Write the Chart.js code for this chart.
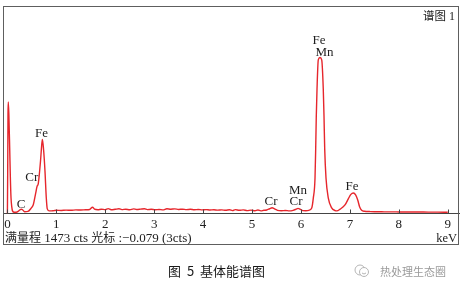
<!DOCTYPE html>
<html>
<head>
<meta charset="utf-8">
<script src="https://cdn.jsdelivr.net/npm/chart.js@4.4.0/dist/chart.umd.min.js"></script>
<style>
  body { margin: 0; background: #fff; }
  #wrap { position: relative; width: 461px; height: 288px; }
  #spec { position: absolute; left: 0; top: 0; }
  .txt { position: absolute; white-space: pre; font-family: "Liberation Serif", "Noto Sans CJK SC", serif; color: #222; }
  .cjk { font-family: "Noto Sans CJK SC", sans-serif; }
</style>
</head>
<body>
<div id="wrap">
  <canvas id="spec" width="461" height="288"></canvas>

  <div class="txt" style="right:6px; top:8px; font-size:12px; line-height:15px;"><span class="cjk" style="font-size:11.5px">谱图</span> 1</div>
  <div class="txt" style="left:5px; top:229px; font-size:13px; line-height:15px;"><span class="cjk" style="font-size:12px">满量程</span> 1473 cts <span class="cjk" style="font-size:12px">光标</span> :−0.079 (3cts)</div>
  <div class="txt" style="right:4px; top:231px; font-size:12.5px; line-height:15px;">keV</div>

  <div class="txt cjk" style="left:168px; top:262px; font-size:13px; line-height:18px; color:#1a1a1a; word-spacing:3px;">图 5 基体能谱图</div>

  <svg style="position:absolute; left:354px; top:263px;" width="16" height="16" viewBox="0 0 16 16">
    <circle cx="6" cy="7" r="5" fill="none" stroke="#b5b5b5" stroke-width="1"/>
    <circle cx="10" cy="9" r="4.5" fill="#fff" stroke="#b5b5b5" stroke-width="1"/>
    <path d="M8 10 Q10 12 12 10" fill="none" stroke="#b5b5b5" stroke-width="1"/>
  </svg>
  <div class="txt cjk" style="left:380px; top:263px; font-size:11px; line-height:16px; color:#9a9a9a;">热处理生态圈</div>
</div>

<script>
// energy (keV) and counts
const energy = [
  0.000, 0.006, 0.012, 0.018, 0.030, 0.047, 0.060, 0.074, 0.090, 0.104,
  0.140, 0.180, 0.220, 0.260, 0.285, 0.310, 0.350, 0.420, 0.480, 0.529,
  0.578, 0.605, 0.632, 0.676, 0.700, 0.715, 0.740, 0.768, 0.795, 0.815,
  0.850, 0.900, 0.950, 1.00, 1.10, 1.20, 1.30, 1.40, 1.50, 1.60,
  1.68, 1.74, 1.78, 1.85, 1.92, 2.00, 2.06, 2.12, 2.20, 2.28,
  2.34, 2.42, 2.50, 2.58, 2.64, 2.72, 2.80, 2.86, 2.94, 3.02,
  3.10, 3.18, 3.26, 3.34, 3.42, 3.50, 3.58, 3.66, 3.74, 3.82,
  3.90, 3.98, 4.06, 4.14, 4.22, 4.30, 4.38, 4.46, 4.54, 4.60,
  4.66, 4.74, 4.82, 4.90, 4.98, 5.06, 5.12, 5.18, 5.24, 5.30,
  5.36, 5.41, 5.46, 5.52, 5.60, 5.68, 5.76, 5.84, 5.90, 5.94,
  5.98, 6.04, 6.10, 6.16, 6.22, 6.252, 6.287, 6.301, 6.313, 6.328,
  6.354, 6.389, 6.424, 6.456, 6.471, 6.485, 6.512, 6.559, 6.628, 6.700,
  6.730, 6.800, 6.900, 6.970, 7.020, 7.070, 7.120, 7.160, 7.200, 7.240,
  7.300, 7.400, 7.500, 7.600, 7.700, 7.800, 7.900, 8.000, 8.200, 8.400,
  8.600, 8.800, 9.000
];
const counts = [
  0, 300, 700, 791, 700, 460, 260, 109, 45, 18,
  8, 8, 14, 26, 30, 26, 12, 14, 35, 62,
  144, 190, 214, 369, 480, 526, 450, 300, 109, 32,
  18, 18, 20, 22, 21, 23, 22, 25, 24, 26,
  28, 44, 30, 26, 30, 27, 34, 26, 29, 33,
  27, 30, 26, 32, 28, 30, 33, 27, 29, 26,
  28, 25, 33, 30, 32, 28, 30, 27, 29, 26,
  28, 25, 27, 24, 26, 23, 25, 22, 26, 20,
  27, 22, 25, 20, 23, 19, 24, 18, 22, 24,
  33, 40, 32, 22, 19, 21, 18, 22, 30, 36,
  30, 20, 19, 22, 39, 109, 250, 460, 689, 882,
  1090, 1107, 1090, 882, 689, 460, 250, 109, 39, 20,
  18, 30, 60, 105, 135, 145, 130, 95, 45, 22,
  15, 13, 12, 12, 11, 11, 11, 10, 10, 10,
  9, 9, 8
];
const tickVals = [0, 1, 2, 3, 4, 5, 6, 7, 8, 9];
const fullScale = 1473;

// element labels: text, energy (keV), counts level of the label centre
const peakNames = ['Fe', 'Cr', 'C', 'Cr', 'Mn', 'Cr', 'Fe', 'Mn', 'Fe'];
const peakKeV   = [0.697, 0.497, 0.278, 5.387, 5.939, 5.898, 6.368, 6.481, 7.043];
const peakLevel = [566, 257, 63, 81, 162, 81, 1229, 1145, 193];

const points = energy.map((e, i) => ({ x: e, y: counts[i] }));

// outer frame around the spectrum
const framePlugin = {
  id: 'frame',
  afterDraw(chart) {
    const ctx = chart.ctx;
    ctx.save();
    ctx.strokeStyle = '#5e5e5e';
    ctx.lineWidth = 1;
    ctx.strokeRect(3.5, 6.5, 455, 238);
    ctx.restore();
  }
};

// small tick marks pointing up from the axis
const tickPlugin = {
  id: 'upTicks',
  afterDraw(chart) {
    const sx = chart.scales.x;
    const ctx = chart.ctx;
    const y0 = Math.round(sx.top) + 0.5;
    ctx.save();
    ctx.strokeStyle = '#444';
    ctx.lineWidth = 1;
    sx.ticks.forEach(t => {
      const px = Math.round(sx.getPixelForValue(t.value)) + 0.5;
      ctx.beginPath();
      ctx.moveTo(px, y0);
      ctx.lineTo(px, y0 - 4);
      ctx.stroke();
    });
    ctx.restore();
  }
};

const labelPlugin = {
  id: 'peakLabels',
  afterDatasetsDraw(chart) {
    const { x, y } = chart.scales;
    const ctx = chart.ctx;
    ctx.save();
    ctx.font = '13px "Liberation Serif"';
    ctx.fillStyle = '#1e1e1e';
    ctx.textAlign = 'center';
    ctx.textBaseline = 'middle';
    peakNames.forEach((n, i) => {
      ctx.fillText(n, x.getPixelForValue(peakKeV[i]), y.getPixelForValue(peakLevel[i]));
    });
    ctx.restore();
  }
};

new Chart(document.getElementById('spec'), {
  type: 'line',
  data: {
    datasets: [{
      data: points,
      borderColor: '#e6262c',
      borderWidth: 1.4,
      pointRadius: 0,
      cubicInterpolationMode: 'monotone',
      fill: false
    }]
  },
  options: {
    responsive: false,
    animation: false,
    devicePixelRatio: 1,
    layout: { padding: { left: 3, right: 2, top: 6, bottom: 53 } },
    plugins: { legend: { display: false }, tooltip: { enabled: false } },
    scales: {
      x: {
        type: 'linear',
        min: -0.09,
        max: 9.23,
        afterBuildTicks: s => { s.ticks = tickVals.map(v => ({ value: v })); },
        grid: { display: false, drawTicks: false },
        border: { display: true, color: '#444', width: 1 },
        ticks: {
          color: '#222',
          padding: 3,
          maxRotation: 0,
          autoSkip: false,
          font: { family: 'Liberation Serif', size: 13 }
        }
      },
      y: {
        display: false,
        min: 0,
        max: fullScale
      }
    }
  },
  plugins: [framePlugin, tickPlugin, labelPlugin]
});
</script>
</body>
</html>
